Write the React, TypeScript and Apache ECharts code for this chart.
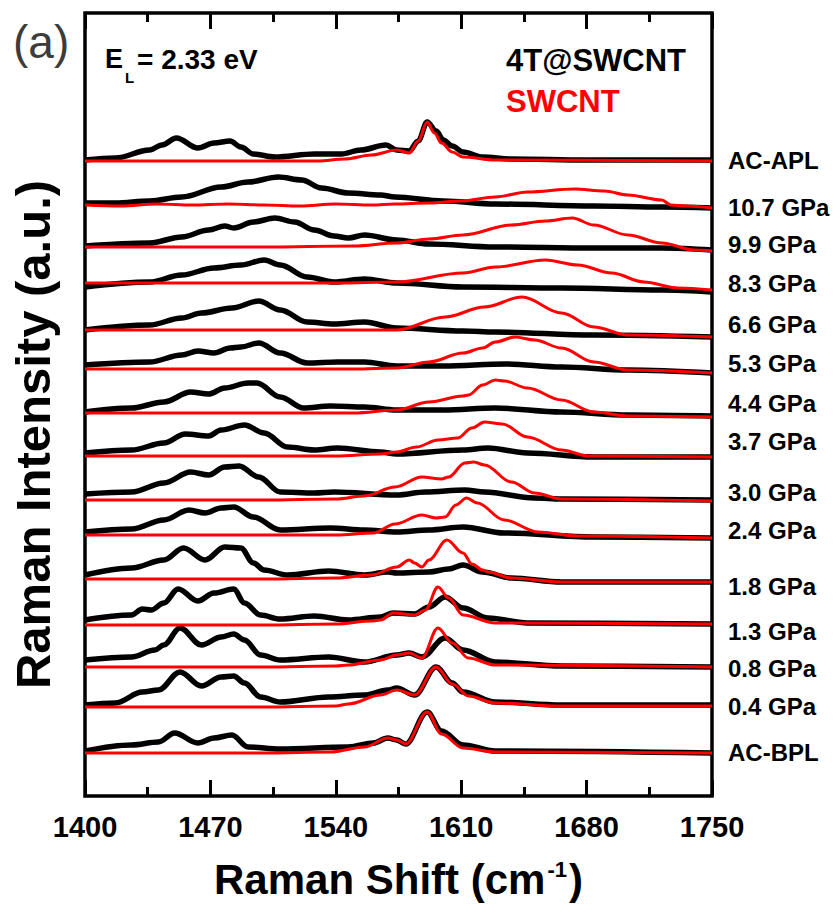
import React, { useEffect, useRef } from "react";
import * as echarts from "echarts";

// ---- Data (wavenumber cm^-1, intensity a.u. above each trace's baseline) ----
const xTicks = [1400, 1470, 1540, 1610, 1680, 1750];
const traceNames = ["AC-APL", "10.7 GPa", "9.9 GPa", "8.3 GPa", "6.6 GPa", "5.3 GPa", "4.4 GPa", "3.7 GPa", "3.0 GPa", "2.4 GPa", "1.8 GPa", "1.3 GPa", "0.8 GPa", "0.4 GPa", "AC-BPL"];
const traceOffsets = [635, 590, 548, 510, 465, 427, 383, 340, 296, 261, 217, 172, 129, 89, 43];

const blkACAPL = [[1400,1],[1417,3],[1436,11],[1443,16],[1451,23],[1463,13],[1472,18],[1481,20],[1487,14],[1494,7],[1506,4],[1528,7],[1543,7],[1554,11],[1568,16],[1574,11],[1581,10],[1586,20],[1591,39],[1596,30],[1600,21],[1605,15],[1611,9],[1622,4],[1638,2],[1680,1],[1750,1]];
const redACAPL = [[1400,0],[1530,0],[1545,2],[1560,6],[1574,11],[1581,8],[1586,20],[1591,39],[1595,28],[1599,18],[1605,9],[1611,4],[1629,1],[1750,0]];

const blk107 = [[1400,3],[1417,3],[1436,5],[1454,9],[1476,19],[1491,24],[1508,29],[1521,26],[1532,18],[1547,13],[1565,11],[1573,9],[1600,5],[1629,2],[1684,0],[1722,-1],[1750,-2]];
const red107 = [[1400,1],[1420,0],[1440,2],[1460,1],[1480,2],[1500,1],[1520,0],[1540,2],[1560,1],[1573,2],[1592,3],[1610,5],[1629,9],[1647,14],[1673,17],[1690,15],[1703,11],[1722,6],[1727,1],[1735,0],[1750,-2]];

const blk99 = [[1400,2],[1436,5],[1454,11],[1469,18],[1478,22],[1483,20],[1494,26],[1506,30],[1517,26],[1528,18],[1539,12],[1547,10],[1556,13],[1574,8],[1592,4],[1629,1],[1684,0],[1722,0],[1750,-2]];
const red99 = [[1400,1],[1450,1],[1500,1],[1550,2],[1574,5],[1592,9],[1611,13],[1638,23],[1657,27],[1672,30],[1684,23],[1703,13],[1722,5],[1740,-2],[1750,-3]];

const blk83 = [[1400,-1],[1436,4],[1454,11],[1472,18],[1487,21],[1500,26],[1509,21],[1524,9],[1539,4],[1556,7],[1574,3],[1611,-1],[1666,-2],[1722,-4],[1750,-6]];
const red83 = [[1400,3],[1450,3],[1500,3],[1540,3],[1574,4],[1611,13],[1629,19],[1657,26],[1675,21],[1694,13],[1712,4],[1731,-2],[1750,-4]];

const blk66 = [[1400,1],[1436,6],[1454,13],[1465,18],[1482,23],[1497,30],[1509,21],[1524,9],[1539,7],[1556,9],[1574,3],[1611,0],[1629,-1],[1684,-4],[1750,-6]];
const red66 = [[1400,1],[1450,1],[1500,1],[1550,1],[1574,1],[1601,14],[1623,24],[1644,34],[1666,18],[1684,4],[1703,-4],[1750,-6]];

const blk53 = [[1400,4],[1436,7],[1454,14],[1463,18],[1472,16],[1481,21],[1487,22],[1497,26],[1509,16],[1524,6],[1541,7],[1556,7],[1574,3],[1600,3],[1635,5],[1666,2],[1703,-1],[1750,-4]];
const red53 = [[1400,0],[1500,0],[1550,0],[1574,1],[1592,7],[1611,16],[1622,21],[1629,27],[1640,32],[1651,29],[1666,21],[1684,7],[1703,-1],[1750,-4]];

const blk44 = [[1400,1],[1426,5],[1444,11],[1459,21],[1469,19],[1478,25],[1491,30],[1496,30],[1509,16],[1522,5],[1537,7],[1556,6],[1574,3],[1600,3],[1629,5],[1666,1],[1703,-2],[1750,-3]];
const red44 = [[1400,0],[1500,0],[1550,0],[1574,3],[1592,11],[1611,17],[1614,18],[1622,28],[1629,33],[1634,32],[1647,25],[1666,13],[1684,1],[1703,-3],[1750,-4]];

const blk37 = [[1400,3],[1426,6],[1444,13],[1456,22],[1469,20],[1476,26],[1489,31],[1500,23],[1513,9],[1528,6],[1541,8],[1565,4],[1574,2],[1611,6],[1625,8],[1647,3],[1684,-1],[1750,-1]];
const red37 = [[1400,0],[1500,0],[1540,0],[1565,2],[1574,4],[1585,9],[1597,16],[1608,18],[1616,28],[1623,34],[1633,32],[1647,19],[1666,6],[1681,0],[1750,-1]];

const blk30 = [[1400,6],[1426,8],[1444,17],[1459,28],[1469,25],[1478,33],[1486,34],[1497,23],[1509,8],[1528,7],[1539,8],[1574,5],[1590,8],[1612,10],[1623,8],[1651,2],[1666,1],[1750,0]];
const red30 = [[1400,0],[1500,0],[1540,1],[1556,4],[1573,13],[1588,23],[1599,21],[1603,23],[1612,37],[1617,38],[1623,35],[1638,18],[1651,7],[1666,1],[1750,-1]];

const blk24 = [[1400,3],[1426,6],[1444,15],[1458,25],[1467,22],[1476,27],[1483,28],[1494,18],[1509,5],[1537,7],[1556,5],[1574,3],[1592,5],[1611,8],[1634,2],[1684,-2],[1750,-3]];
const red24 = [[1400,0],[1500,0],[1540,0],[1561,2],[1573,11],[1588,20],[1596,17],[1601,18],[1607,30],[1613,37],[1619,32],[1634,15],[1653,3],[1675,-1],[1750,-3]];

const blk18 = [[1400,4],[1426,11],[1444,19],[1455,31],[1467,19],[1478,32],[1487,31],[1494,16],[1500,9],[1513,4],[1536,8],[1556,4],[1569,7],[1574,6],[1592,7],[1603,10],[1611,14],[1622,7],[1638,1],[1666,-3],[1750,-3]];
const red18 = [[1400,0],[1500,0],[1540,1],[1560,4],[1574,12],[1581,19],[1584,16],[1588,12],[1592,19],[1602,39],[1611,26],[1616,15],[1622,9],[1625,7],[1638,1],[1666,-3],[1750,-3]];

const blk13 = [[1400,4],[1426,9],[1432,15],[1437,14],[1444,21],[1452,35],[1463,23],[1472,31],[1483,35],[1489,21],[1498,9],[1509,5],[1528,8],[1547,4],[1565,7],[1572,11],[1584,10],[1592,17],[1601,27],[1611,16],[1625,6],[1647,1],[1750,0]];
const red13 = [[1400,-1],[1500,-1],[1540,0],[1560,3],[1565,4],[1572,11],[1584,9],[1590,14],[1597,37],[1603,26],[1611,9],[1629,1],[1750,0]];

const blk08 = [[1400,7],[1426,10],[1439,17],[1444,22],[1453,39],[1465,22],[1476,30],[1483,33],[1489,27],[1498,12],[1509,7],[1536,10],[1556,5],[1574,12],[1581,14],[1588,10],[1601,29],[1611,17],[1629,5],[1666,1],[1750,0]];
const red08 = [[1400,0],[1500,0],[1540,1],[1547,2],[1565,7],[1574,12],[1581,14],[1588,9],[1597,39],[1605,24],[1614,9],[1629,2],[1750,0]];

const blk04 = [[1400,2],[1417,4],[1432,15],[1441,17],[1453,35],[1465,21],[1476,30],[1483,31],[1489,24],[1498,10],[1509,5],[1536,10],[1556,12],[1569,17],[1574,19],[1584,12],[1596,40],[1605,24],[1611,15],[1629,5],[1666,2],[1750,2]];
const red04 = [[1400,0],[1500,0],[1540,1],[1547,3],[1565,12],[1574,17],[1584,12],[1596,40],[1605,23],[1614,11],[1629,4],[1666,1],[1750,1]];

const blkACBPL = [[1400,2],[1426,8],[1441,11],[1450,20],[1463,10],[1472,15],[1482,18],[1491,6],[1509,4],[1547,6],[1561,10],[1569,15],[1574,13],[1579,9],[1591,41],[1599,22],[1611,8],[1629,2],[1750,0]];
const redACBPL = [[1400,0],[1500,0],[1537,1],[1556,6],[1569,15],[1574,13],[1579,9],[1591,41],[1599,19],[1611,5],[1629,1],[1750,0]];

const blackTraces = [blkACAPL, blk107, blk99, blk83, blk66, blk53, blk44, blk37, blk30, blk24, blk18, blk13, blk08, blk04, blkACBPL];
const redTraces = [redACAPL, red107, red99, red83, red66, red53, red44, red37, red30, red24, red18, red13, red08, red04, redACBPL];

// ---- Layout ----
const GRID = { left: 83, top: 13, width: 629, height: 783 };
const labelY = [160, 207, 244, 283, 324, 363, 403, 441, 492, 530, 586, 631, 668, 706, 752];
const FONT = "'Liberation Sans', Arial, Helvetica, sans-serif";

export default function App() {
  const ref = useRef<HTMLDivElement>(null);
  useEffect(() => {
    if (!ref.current) return;
    const chart = echarts.init(ref.current, undefined, { renderer: "svg" });

    const mk = (arr: number[][], off: number) => arr.map((p) => [p[0], off + p[1]]);
    const series: any[] = [];
    blackTraces.forEach((arr, i) => {
      series.push({
        type: "line", name: "4T@SWCNT", data: mk(arr, traceOffsets[i]),
        showSymbol: false, symbol: "none", smooth: 0.35, smoothMonotone: "x",
        lineStyle: { color: "#000", width: 5.5 }, itemStyle: { color: "#000" }, z: 2, silent: true,
      });
    });
    redTraces.forEach((arr, i) => {
      series.push({
        type: "line", name: "SWCNT", data: mk(arr, traceOffsets[i]),
        showSymbol: false, symbol: "none", smooth: 0.35, smoothMonotone: "x",
        lineStyle: { color: "#ff0000", width: 3 }, itemStyle: { color: "#ff0000" }, z: 3, silent: true,
      });
    });

    const graphic: any[] = [
      { type: "text", x: 13, y: 42, style: { text: "(a)", fontSize: 46, fontFamily: FONT, fill: "#3c3c3c", align: "left", verticalAlign: "middle" } },
      { type: "text", x: 105, y: 59, style: { text: "E", fontSize: 27, fontWeight: "bold", fontFamily: FONT, fill: "#000", align: "left", verticalAlign: "middle" } },
      { type: "text", x: 125, y: 77, style: { text: "L", fontSize: 15, fontWeight: "bold", fontFamily: FONT, fill: "#000", align: "left", verticalAlign: "middle" } },
      { type: "text", x: 137, y: 59, style: { text: "= 2.33 eV", fontSize: 28, fontWeight: "bold", fontFamily: FONT, fill: "#000", align: "left", verticalAlign: "middle" } },
    ];
    traceNames.forEach((n, i) => {
      graphic.push({ type: "text", x: 728, y: labelY[i], style: { text: n, fontSize: 24, fontWeight: "bold", fontFamily: FONT, fill: "#000", align: "left", verticalAlign: "middle" } });
    });

    const tickCommon = {
      axisLine: { show: false },
      axisTick: { show: true, inside: true, length: 16, lineStyle: { color: "#000", width: 3 } },
      minorTick: { show: true, splitNumber: 2, length: 9, lineStyle: { color: "#000", width: 3 } },
      splitLine: { show: false },
    };

    chart.setOption({
      animation: false,
      backgroundColor: "#fff",
      grid: { ...GRID, show: true, borderColor: "#000", borderWidth: 3.5, backgroundColor: "transparent" },
      legend: {
        orient: "vertical", left: 495, top: 38, itemWidth: 0, itemHeight: 0, itemGap: 6, selectedMode: false,
        textStyle: { fontSize: 31, fontWeight: "bold", fontFamily: FONT, lineHeight: 35 },
        data: [
          { name: "4T@SWCNT", textStyle: { color: "#000" } },
          { name: "SWCNT", textStyle: { color: "#ff0000" } },
        ],
      },
      xAxis: [
        {
          type: "value", min: xTicks[0], max: xTicks[xTicks.length - 1], interval: 70, position: "bottom",
          ...tickCommon,
          axisLabel: { show: true, fontSize: 29, fontWeight: "bold", fontFamily: FONT, color: "#000", margin: 16, formatter: (v: number) => String(v) },
          name: "Raman Shift (cm{sup|-1})", nameLocation: "middle", nameGap: 62,
          nameTextStyle: {
            fontSize: 42, fontWeight: "bold", fontFamily: FONT, color: "#000",
            rich: { sup: { fontSize: 22, fontWeight: "bold", fontFamily: FONT, color: "#000", verticalAlign: "top", padding: [0, 2, 18, 2] } },
          },
        },
        {
          type: "value", min: xTicks[0], max: xTicks[xTicks.length - 1], interval: 70, position: "top",
          ...tickCommon,
          axisLabel: { show: false },
        },
      ],
      yAxis: {
        type: "value", min: 0, max: GRID.height,
        axisLine: { show: false }, axisTick: { show: false }, axisLabel: { show: false }, splitLine: { show: false },
        name: "Raman Intensity (a.u.)", nameLocation: "middle", nameGap: 28, nameRotate: 90,
        nameTextStyle: { fontSize: 49, fontWeight: "bold", fontFamily: FONT, color: "#000", padding: [0, 60, 0, 0] },
      },
      graphic,
      series,
    });
    return () => chart.dispose();
  }, []);
  return <div ref={ref} style={{ width: 835, height: 918, position: "absolute", left: 0, top: 0 }} />;
}
